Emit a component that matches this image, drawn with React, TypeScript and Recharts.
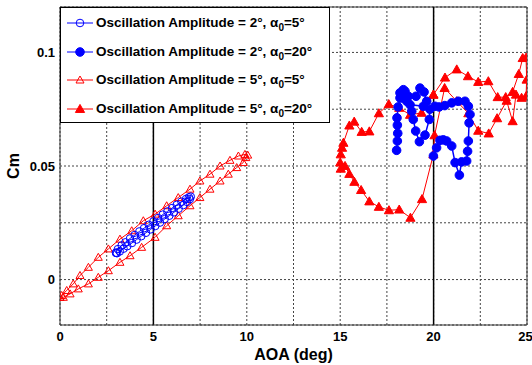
import React from "react";
import { LineChart, Line, XAxis, YAxis, CartesianGrid, ReferenceLine } from "recharts";

// Oscillation amplitude 2 deg, alpha0 = 5 deg (open blue circles)
const amp2a5Aoa = [3.0, 3.1, 3.3, 3.5, 3.75, 4.0, 4.25, 4.5, 4.75, 5.0, 5.25, 5.5, 5.75, 6.0, 6.25, 6.5, 6.75, 6.9, 7.0, 6.95, 6.8, 6.6, 6.35, 6.1, 5.85, 5.6, 5.35, 5.1, 4.85, 4.6, 4.35, 4.1, 3.85, 3.6, 3.4, 3.2, 3.05, 3.0];
const amp2a5Cm = [0.0118, 0.0134, 0.015, 0.0164, 0.0181, 0.0196, 0.0212, 0.0226, 0.0241, 0.0256, 0.0271, 0.0286, 0.03, 0.0315, 0.0329, 0.0343, 0.0355, 0.0362, 0.0365, 0.0354, 0.0342, 0.0328, 0.0312, 0.0296, 0.0281, 0.0266, 0.0251, 0.0236, 0.0221, 0.0206, 0.0191, 0.0176, 0.0161, 0.0147, 0.0136, 0.0124, 0.0116, 0.0118];

// Oscillation amplitude 2 deg, alpha0 = 20 deg (filled blue circles)
const amp2a20Aoa = [18.02, 18.06, 18.08, 18.06, 18.04, 18.1, 18.2, 18.2, 18.38, 18.47, 18.29, 18.56, 18.65, 19.06, 19.27, 19.49, 19.63, 19.45, 18.74, 18.83, 18.91, 19.04, 19.24, 19.54, 19.77, 19.8, 20.07, 20.3, 20.6, 20.97, 21.32, 21.68, 21.86, 21.95, 21.9, 21.86, 21.82, 21.77, 21.5, 21.38, 21.15, 20.97, 20.7, 20.52, 20.34, 20.16, 19.99];
const amp2a20Cm = [0.0569, 0.061, 0.0644, 0.068, 0.0712, 0.076, 0.08, 0.0822, 0.0836, 0.0829, 0.08, 0.0785, 0.0807, 0.0807, 0.0843, 0.0826, 0.0785, 0.0763, 0.077, 0.0741, 0.0705, 0.0654, 0.0607, 0.0636, 0.0705, 0.075, 0.0763, 0.076, 0.0766, 0.0778, 0.0785, 0.0785, 0.0763, 0.0727, 0.069, 0.061, 0.0565, 0.0522, 0.0518, 0.046, 0.0515, 0.0588, 0.061, 0.0615, 0.0613, 0.058, 0.0544];

// Oscillation amplitude 5 deg, alpha0 = 5 deg (open red triangles)
const amp5a5Aoa = [0.0, 0.09, 0.36, 0.71, 1.07, 1.52, 2.05, 2.59, 3.21, 3.84, 4.46, 5.09, 5.71, 6.33, 6.96, 7.49, 8.03, 8.57, 9.1, 9.55, 9.9, 10.05, 9.95, 9.81, 9.46, 9.01, 8.57, 8.03, 7.49, 6.96, 6.33, 5.71, 5.09, 4.37, 3.75, 3.21, 2.59, 2.05, 1.52, 0.98, 0.54, 0.18, 0.0];
const amp5a5Cm = [-0.0078, -0.007, -0.0048, -0.0019, 0.0018, 0.0054, 0.0098, 0.0135, 0.0178, 0.0215, 0.0259, 0.0288, 0.0325, 0.0361, 0.0398, 0.0434, 0.0464, 0.05, 0.0525, 0.0544, 0.0551, 0.0548, 0.0537, 0.0515, 0.0493, 0.0464, 0.0434, 0.0398, 0.0361, 0.0325, 0.0281, 0.0237, 0.0186, 0.0142, 0.0105, 0.0076, 0.0039, 0.001, -0.0019, -0.0041, -0.0063, -0.0078, -0.0078];

// Oscillation amplitude 5 deg, alpha0 = 20 deg (filled red triangles)
const amp5a20Aoa = [19.99, 20.61, 21.24, 21.84, 22.39, 22.93, 23.43, 23.86, 24.23, 24.56, 24.77, 24.95, 24.98, 24.95, 24.71, 24.41, 24.23, 23.91, 23.4, 22.95, 22.39, 21.86, 21.24, 20.59, 20.05, 19.99, 19.38, 18.76, 18.16, 17.61, 17.07, 16.56, 16.12, 15.76, 15.49, 15.26, 15.03, 15.0, 15.03, 15.1, 15.17, 15.49, 15.75, 16.15, 16.56, 17.07, 17.6, 18.16, 18.74, 19.36, 19.99];
const amp5a20Cm = [0.0814, 0.0889, 0.0925, 0.0895, 0.087, 0.0873, 0.0803, 0.0803, 0.0826, 0.0905, 0.0975, 0.0977, 0.088, 0.0807, 0.08, 0.0814, 0.0697, 0.0787, 0.071, 0.0643, 0.0655, 0.0732, 0.0785, 0.0843, 0.0635, 0.0551, 0.0354, 0.0272, 0.0308, 0.0305, 0.032, 0.0344, 0.0394, 0.043, 0.0465, 0.05, 0.0488, 0.0515, 0.0551, 0.058, 0.0602, 0.0678, 0.0695, 0.065, 0.0652, 0.0732, 0.0772, 0.0756, 0.0725, 0.0734, 0.0814];

const xTicks = [0, 2.5, 5, 7.5, 10, 12.5, 15, 17.5, 20, 22.5, 25];
const yTicks = [0, 0.025, 0.05, 0.075, 0.1];
const xLabels = [0, 5, 10, 15, 20, 25];
const yLabels: Record<string, string> = { "0": "0", "0.05": "0.05", "0.1": "0.1" };

const BLUE = "#0000ff";
const RED = "#ff0000";
const FONT = '"Liberation Sans", Arial, sans-serif';

const toPoints = (xs: number[], ys: number[]) => xs.map((x, i) => ({ x, y: ys[i] }));

const amp2a5 = toPoints(amp2a5Aoa, amp2a5Cm);
const amp2a20 = toPoints(amp2a20Aoa, amp2a20Cm);
const amp5a5 = toPoints(amp5a5Aoa, amp5a5Cm);
const amp5a20 = toPoints(amp5a20Aoa, amp5a20Cm);

type Marker = "circleOpen" | "circleFilled" | "triOpen" | "triFilled";

function markerShape(kind: Marker, cx: number, cy: number, key?: React.Key) {
  if (kind === "circleOpen") {
    return <circle key={key} cx={cx} cy={cy} r={3.8} fill="none" stroke={BLUE} strokeWidth={1} />;
  }
  if (kind === "circleFilled") {
    return <circle key={key} cx={cx} cy={cy} r={4.3} fill={BLUE} stroke={BLUE} strokeWidth={1} />;
  }
  const s = kind === "triOpen" ? 4 : 4.6;
  const pts = `${cx},${cy - s} ${cx - s},${cy + s * 0.75} ${cx + s},${cy + s * 0.75}`;
  return (
    <polygon
      key={key}
      points={pts}
      fill={kind === "triOpen" ? "none" : RED}
      stroke={RED}
      strokeWidth={1}
    />
  );
}

const dotFor = (kind: Marker) => (props: any) => {
  const { cx, cy, index } = props;
  if (cx == null || cy == null) return <g key={`e-${index}`} />;
  return markerShape(kind, cx, cy, `${kind}-${index}`);
};

const legendItems: { amp: string; a0: string; color: string; marker: Marker }[] = [
  { amp: "2", a0: "5", color: BLUE, marker: "circleOpen" },
  { amp: "2", a0: "20", color: BLUE, marker: "circleFilled" },
  { amp: "5", a0: "5", color: RED, marker: "triOpen" },
  { amp: "5", a0: "20", color: RED, marker: "triFilled" },
];

function ChartLegend() {
  return (
    <div
      style={{
        position: "absolute",
        left: 60,
        top: 7,
        width: 270,
        height: 116,
        boxSizing: "border-box",
        border: "1px solid #000",
        background: "#fff",
        fontFamily: FONT,
        fontWeight: "bold",
        fontSize: 13.5,
        color: "#000",
      }}
    >
      {legendItems.map((item, i) => (
        <div key={i} style={{ position: "absolute", left: 0, top: 6 + i * 28.5, height: 18, whiteSpace: "nowrap" }}>
          <svg width={34} height={18} style={{ position: "absolute", left: 4, top: 0 }}>
            <line x1={2} y1={9} x2={28} y2={9} stroke={item.color} strokeWidth={1} />
            {markerShape(item.marker, 15, 9)}
          </svg>
          <span style={{ position: "absolute", left: 35, top: 0, lineHeight: "18px" }}>
            Oscillation Amplitude = {item.amp}°, α
            <span style={{ fontSize: 10, position: "relative", top: 4 }}>0</span>={item.a0}°
          </span>
        </div>
      ))}
    </div>
  );
}

export default function App() {
  const tickStyle = { fontSize: 13, fontWeight: "bold" as const, fill: "#000", fontFamily: FONT };
  return (
    <div style={{ position: "absolute", left: 0, top: 0, width: 532, height: 365, background: "#fff" }}>
      <LineChart width={532} height={365} margin={{ top: 7, right: 5, bottom: 0, left: 0 }}>
        <CartesianGrid stroke="#444" strokeDasharray="2 2" />
        <XAxis
          type="number"
          dataKey="x"
          domain={[0, 25]}
          ticks={xTicks}
          allowDataOverflow
          height={40}
          tickLine={false}
          tickSize={5}
          tickMargin={2}
          axisLine={{ stroke: "#333" }}
          tick={tickStyle}
          tickFormatter={(v: number) => (xLabels.includes(v) ? String(v) : "")}
          label={{ value: "AOA (deg)", position: "center", dy: 9, fontSize: 16, fontWeight: "bold", fill: "#000", fontFamily: FONT }}
        />
        <YAxis
          type="number"
          dataKey="y"
          domain={[-0.02, 0.12]}
          ticks={yTicks}
          allowDataOverflow
          width={60}
          tickLine={false}
          tickSize={5}
          tickMargin={0}
          axisLine={{ stroke: "#333" }}
          tick={tickStyle}
          tickFormatter={(v: number) => yLabels[String(v)] ?? ""}
          label={{ value: "Cm", angle: -90, position: "center", dx: -17, fontSize: 16, fontWeight: "bold", fill: "#000", fontFamily: FONT }}
        />
        <ReferenceLine y={0.12} stroke="#333" />
        <ReferenceLine x={25} stroke="#333" />
        <ReferenceLine x={5} stroke="#000" strokeWidth={1.5} />
        <ReferenceLine x={20} stroke="#000" strokeWidth={1.5} />
        <Line data={amp5a5} dataKey="y" stroke={RED} strokeWidth={1} dot={dotFor("triOpen")} isAnimationActive={false} />
        <Line data={amp2a5} dataKey="y" stroke={BLUE} strokeWidth={1} dot={dotFor("circleOpen")} isAnimationActive={false} />
        <Line data={amp5a20} dataKey="y" stroke={RED} strokeWidth={1} dot={dotFor("triFilled")} isAnimationActive={false} />
        <Line data={amp2a20} dataKey="y" stroke={BLUE} strokeWidth={1.5} dot={dotFor("circleFilled")} isAnimationActive={false} />
      </LineChart>
      <ChartLegend />
    </div>
  );
}
